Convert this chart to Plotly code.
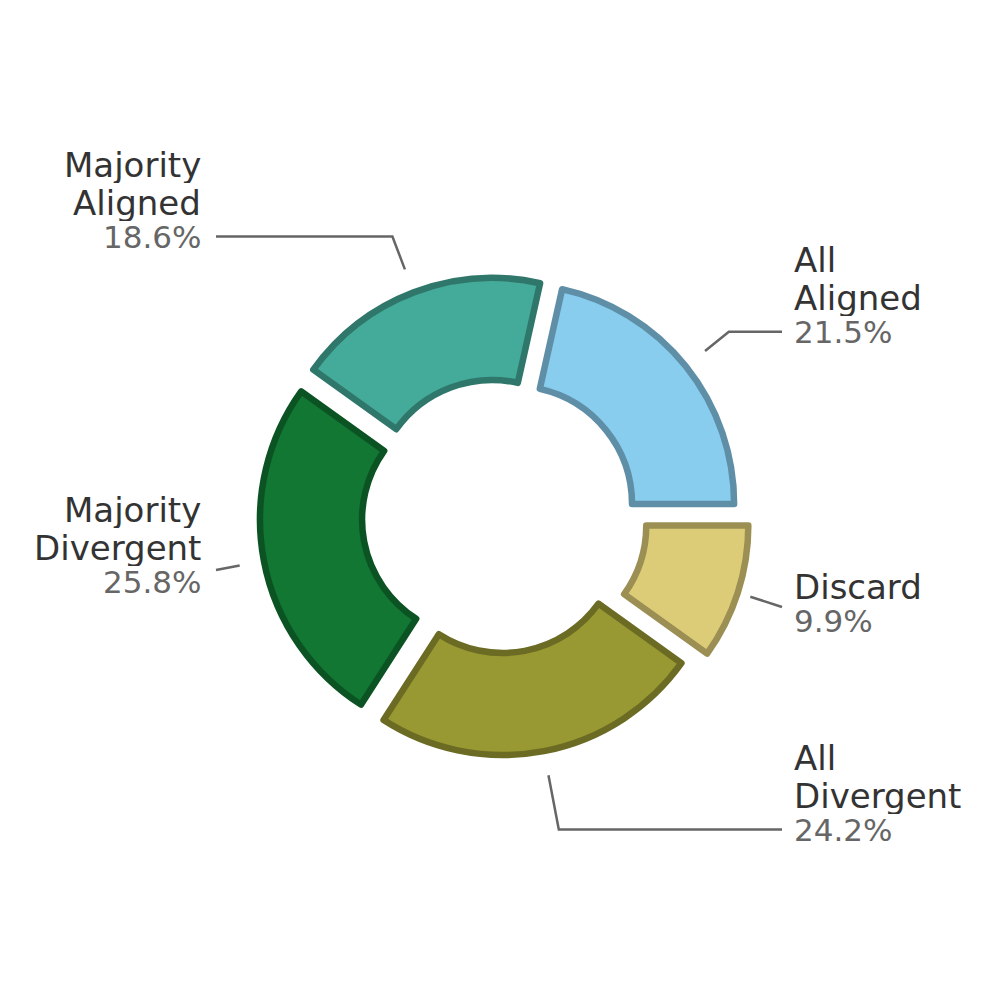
import math
import plotly.graph_objects as go

# data
labels = ["All Aligned", "Majority Aligned", "Majority Divergent", "All Divergent", "Discard"]
label_lines = [["All", "Aligned"], ["Majority", "Aligned"], ["Majority", "Divergent"],
               ["All", "Divergent"], ["Discard"]]
values = [21.5, 18.6, 25.8, 24.2, 9.9]

fills = ["#88CCEE", "#44AA99", "#117733", "#999933", "#DDCC77"]
edges = ["#5F8FA7", "#30776B", "#0C5324", "#6B6B24", "#9B8F53"]
pulls = [0.088, 0.088, 0.088, 0.088, 0.14]

# layout (pixels inside the plot div; the page body adds an 8px offset)
W = H = 996
CX, CY, R = 491, 508, 220
label_y = [0.837, 1.27, -0.30, -1.425, -0.475]   # percent line, in units of R above centre
LABEL_X = 1.35
LEAD_R = 1.2
GAP = 14

half = R * (1 + max(pulls))
dom_x = [(CX - half) / W, (CX + half) / W]
dom_y = [1 - (CY + half) / H, 1 - (CY - half) / H]
total = sum(values)


def px(x):
    return x / W


def py(y):
    return 1 - y / H


# plotly ends the first slice at `rotation` when going counterclockwise
fig = go.Figure(go.Pie(
    labels=labels, values=values, sort=False, direction="counterclockwise",
    rotation=90 - values[0] / total * 360, hole=0.536, pull=pulls,
    textinfo="none", hoverinfo="label+percent",
    marker=dict(colors=fills, line=dict(color=edges, width=6.5)),
    domain=dict(x=dom_x, y=dom_y), showlegend=False,
))

annotations = []
shapes = []
start = 0.0
for name, lines, v, fy in zip(labels, label_lines, values, label_y):
    mid = math.radians(start + v / total * 360 / 2)
    start += v / total * 360
    c, s = math.cos(mid), math.sin(mid)
    right = c >= 0
    tx = CX + (1 if right else -1) * LABEL_X * R
    ty = CY - fy * R
    # leader: along the radius, then horizontal to the text
    x0, y0 = CX + LEAD_R * R * c, CY - LEAD_R * R * s
    ex = tx - GAP if right else tx + GAP
    t = (y0 - ty) / s if abs(s) > 1e-6 else 0
    kx, ky = x0 + t * c, y0 - t * s
    if (right and kx > ex) or (not right and kx < ex):
        t2 = (ex - x0) / c
        path = f"M {px(x0)} {py(y0)} L {px(ex)} {py(y0 - t2 * s)}"
    else:
        path = f"M {px(x0)} {py(y0)} L {px(kx)} {py(ky)} L {px(ex)} {py(ty)}"
    shapes.append(dict(type="path", path=path, xref="paper", yref="paper",
                       line=dict(color="#666666", width=2.5)))

    anchor = "left" if right else "right"
    ax = tx - 3 if right else tx
    annotations.append(dict(x=px(ax), y=py(ty), xref="paper", yref="paper",
                            text=f"{v:.1f}%", showarrow=False, xanchor=anchor,
                            yanchor="middle", align=anchor, height=32, borderpad=0,
                            font=dict(family="DejaVu Sans", size=31, color="#666666")))
    for i, ln in enumerate(reversed(lines)):
        annotations.append(dict(x=px(ax), y=py(ty - 34 - 38 * i), xref="paper", yref="paper",
                                text=ln, showarrow=False, xanchor=anchor,
                                yanchor="middle", align=anchor, height=36, borderpad=0,
                                font=dict(family="DejaVu Sans", size=34, color="#333333")))

fig.update_layout(
    width=W, height=H, margin=dict(l=0, r=0, t=0, b=0),
    paper_bgcolor="white", plot_bgcolor="white",
    annotations=annotations, shapes=shapes,
)
fig.write_html("out.html")
